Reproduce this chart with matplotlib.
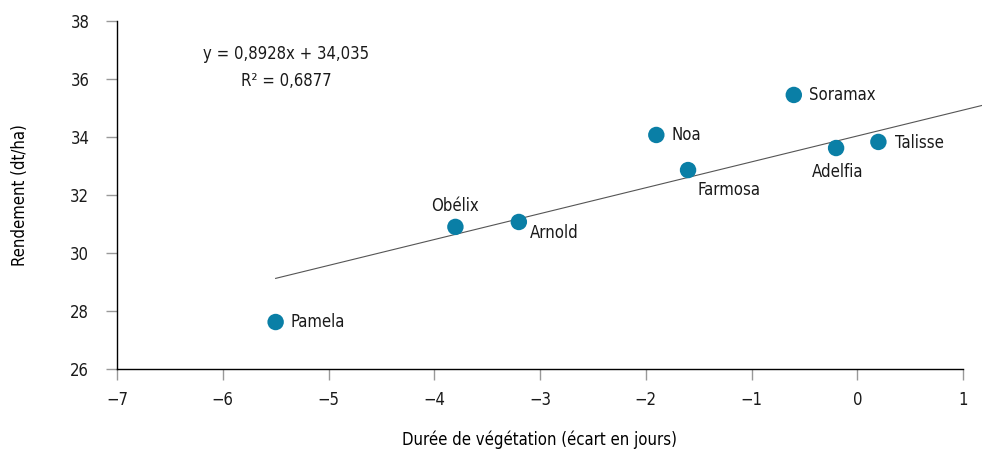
import matplotlib.pyplot as plt
import numpy as np

# data
varieties = ["Pamela", "Obélix", "Arnold", "Noa", "Farmosa", "Soramax", "Adelfia", "Talisse"]
duree = [-5.5, -3.8, -3.2, -1.9, -1.6, -0.6, -0.2, 0.2]
rendement = [27.62, 30.90, 31.07, 34.07, 32.86, 35.45, 33.62, 33.83]
slope, intercept, r2 = 0.8928, 34.035, 0.6877
trend_x = [-5.5, 1.2]

# label offsets in points (dx, dy, ha)
offsets = {
    "Pamela": (11, 0, "left"),
    "Obélix": (0, 15, "center"),
    "Arnold": (8, -8, "left"),
    "Noa": (11, 0, "left"),
    "Farmosa": (7, -14, "left"),
    "Soramax": (11, 0, "left"),
    "Adelfia": (1, -17, "center"),
    "Talisse": (12, -1, "left"),
}

plt.rcParams["font.family"] = ["DejaVu Sans"]
plt.rcParams["font.stretch"] = "condensed"
plt.rcParams["font.size"] = 12

fig = plt.figure(figsize=(9.82, 4.49), dpi=100)
ax = fig.add_axes([117 / 982, 1 - 369 / 449, (963 - 117) / 982, (369 - 21) / 449])

tx = np.array(trend_x)
ax.plot(tx, slope * tx + intercept, color="#555555", lw=0.8, clip_on=False, zorder=1)
ax.scatter(duree, rendement, s=140, color="#0a7fa6", zorder=3, clip_on=False,
           edgecolors="none")

for name, x, y in zip(varieties, duree, rendement):
    dx, dy, ha = offsets[name]
    ax.annotate(name, (x, y), xytext=(dx, dy), textcoords="offset points",
                ha=ha, va="center", fontsize=12, color="#1a1a1a")

ax.annotate("y = 0,8928x + 34,035", (0.20, 0.905), xycoords="axes fraction",
            ha="center", va="center", fontsize=12, color="#1a1a1a")
ax.annotate("R² = 0,6877", (0.20, 0.827), xycoords="axes fraction",
            ha="center", va="center", fontsize=12, color="#1a1a1a")

ax.set_xlim(-7, 1)
ax.set_ylim(26, 38)
ax.set_xticks(range(-7, 2))
ax.set_yticks(range(26, 39, 2))
ax.set_xticklabels([str(v).replace("-", "\u2212") for v in range(-7, 2)])

for s in ["top", "right"]:
    ax.spines[s].set_visible(False)
for s in ["left", "bottom"]:
    ax.spines[s].set_linewidth(1.0)
    ax.spines[s].set_color("black")
ax.tick_params(axis="both", direction="out", length=8, width=1, color="#999999",
               labelsize=12, labelcolor="#1a1a1a")
ax.tick_params(axis="x", pad=8)
ax.tick_params(axis="y", pad=12)

ax.set_xlabel("Durée de végétation (écart en jours)", fontsize=12, labelpad=15)
ax.set_ylabel("Rendement (dt/ha)", fontsize=12, labelpad=30)

fig.savefig("out.png", dpi=100)
